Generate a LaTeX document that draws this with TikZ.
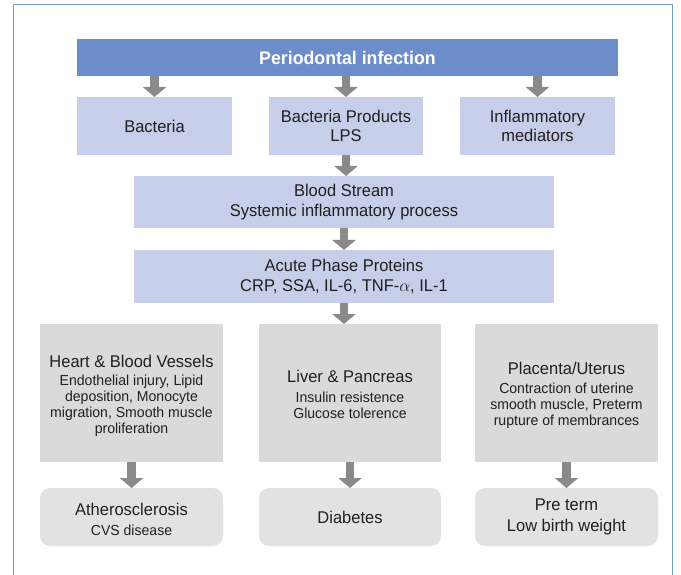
\documentclass[tikz,border=0pt]{standalone}
\usepackage{fontspec}
\setmainfont{Liberation Sans}[FakeStretch=0.97]
\usetikzlibrary{arrows.meta}
\definecolor{topblue}{RGB}{108,140,202}
\definecolor{lightblue}{RGB}{198,206,233}
\definecolor{grayfill}{RGB}{218,218,218}
\definecolor{lightgrayfill}{RGB}{226,226,226}
\definecolor{arrowgray}{RGB}{138,138,138}
\definecolor{framecol}{RGB}{120,160,205}
\definecolor{txt}{RGB}{35,31,32}
\newcommand{\bigtxt}{\fontsize{17}{19.5}\selectfont}
\newcommand{\smalltxt}{\fontsize{14.5}{16}\selectfont}
\begin{document}
\begin{tikzpicture}[x=1pt,y=-1pt,
  box/.style={inner sep=0pt, outer sep=0pt, align=center, text=txt, font=\bigtxt},
  topbox/.style={box, fill=topblue, text=white, font=\fontsize{18.3}{20}\selectfont\bfseries},
  bluebox/.style={box, fill=lightblue},
  graybox/.style={box, fill=grayfill},
  endbox/.style={box, fill=lightgrayfill, rounded corners=10pt},
  ttl/.style={inner sep=0pt, align=center, text=txt, font=\bigtxt},
  bdy/.style={inner sep=0pt, align=center, text=txt, font=\smalltxt},
  arr/.style={draw=arrowgray, line width=8.5pt, -{Triangle[width=23pt,length=10pt]}}
]
\useasboundingbox (0,0) rectangle (681,575);
\fill[white] (0,0) rectangle (681,575);
\draw[framecol, line width=1pt] (13,576) -- (13,5) -- (672,5) -- (672,576);

% top
\node[topbox, minimum width=541pt, minimum height=37pt] (top) at (347.5,57.5) {Periodontal infection};

% second row
\node[bluebox, minimum width=155pt, minimum height=58pt] (bact) at (154.5,126) {Bacteria};
\node[bluebox, minimum width=154pt, minimum height=58pt] (lps) at (346,126) {Bacteria Products\\LPS};
\node[bluebox, minimum width=155pt, minimum height=58pt] (infl) at (537.5,126) {Inflammatory\\mediators};

% blood stream, acute
\node[bluebox, minimum width=420pt, minimum height=52pt] (blood) at (344,202) {Blood Stream\\Systemic inflammatory process};
\node[bluebox, minimum width=420pt, minimum height=53pt] (acute) at (344,276.5) {Acute Phase Proteins\\CRP, SSA, IL-6, TNF-$\alpha$, IL-1};

% organ boxes
\node[graybox, minimum width=183pt, minimum height=138pt] (heart) at (131.5,393) {};
\node[graybox, minimum width=182pt, minimum height=138pt] (liver) at (350,393) {};
\node[graybox, minimum width=183pt, minimum height=138pt] (plac) at (566.5,393) {};

\node[ttl] (heartT) at (131.5,361) {Heart \& Blood Vessels};
\node[bdy] (heartB) at (131.5,406) {Endothelial injury, Lipid\\deposition, Monocyte\\migration, Smooth muscle\\proliferation};
\node[ttl] (liverT) at (350,376) {Liver \& Pancreas};
\node[bdy] (liverB) at (350,405.5) {Insulin resistence\\Glucose tolerence};
\node[ttl] (placT) at (566.5,368) {Placenta/Uterus};
\node[bdy] (placB) at (566.5,406) {Contraction of uterine\\smooth muscle, Preterm\\rupture of membrances};

% outcome boxes
\node[endbox, minimum width=183pt, minimum height=58pt] (ath) at (131.5,517) {};
\node[ttl] (athT) at (131.5,509) {Atherosclerosis};
\node[bdy] (athB) at (131.5,530) {CVS disease};
\node[endbox, minimum width=182pt, minimum height=58pt] (diab) at (350,517) {Diabetes};
\node[endbox, minimum width=183pt, minimum height=58pt] (pre) at (566.5,517) {Pre term\\[2pt]Low birth weight};

% arrows
\draw[arr] (top.south -| bact.north) -- (bact.north);
\draw[arr] (top.south -| lps.north) -- (lps.north);
\draw[arr] (top.south -| infl.north) -- (infl.north);
\draw[arr] (lps.south) -- (lps.south |- blood.north);
\draw[arr] (blood.south) -- (acute.north);
\draw[arr] (acute.south) -- (acute.south |- liver.north);
\draw[arr] (heart.south) -- (ath.north);
\draw[arr] (liver.south) -- (diab.north);
\draw[arr] (plac.south) -- (pre.north);
\end{tikzpicture}
\end{document}
